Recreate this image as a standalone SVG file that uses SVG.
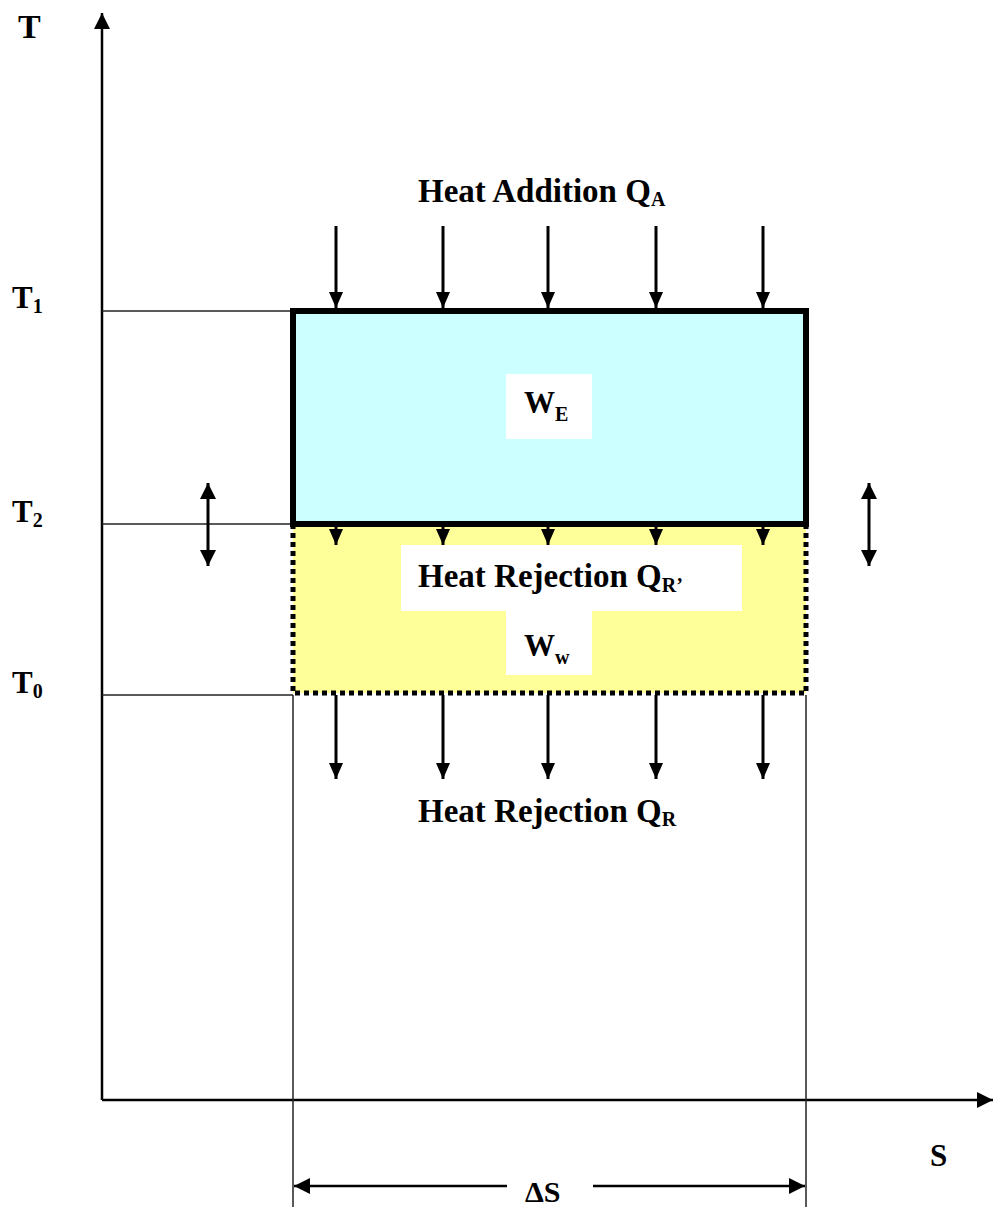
<svg xmlns="http://www.w3.org/2000/svg" width="994" height="1207" viewBox="0 0 994 1207">
<style>
text{font-family:"Liberation Serif","Times New Roman",serif;font-weight:bold;fill:#000}
.lbl{font-size:33px}
.axis{stroke:#000;stroke-width:2.5;fill:none}
.thin{stroke:#222;stroke-width:1.5;fill:none}
.arr{stroke:#000;stroke-width:3;fill:none}
.sub{font-size:20px}
</style>
<defs>
<marker id="ah" markerUnits="userSpaceOnUse" markerWidth="16" markerHeight="16" refX="16" refY="8" orient="auto-start-reverse">
<path d="M0,0 L16,8 L0,16 z" fill="#000"/>
</marker>
<marker id="ahs" markerUnits="userSpaceOnUse" markerWidth="16" markerHeight="14" refX="16" refY="7" orient="auto">
<path d="M0,0 L16,7 L0,14 z" fill="#000"/>
</marker>
</defs>
<rect width="994" height="1207" fill="#fff"/>
<g id="axes">
<line class="axis" x1="102" y1="1100" x2="102" y2="13" marker-end="url(#ah)"/>
<line class="axis" x1="102" y1="1100" x2="993" y2="1100" marker-end="url(#ah)"/>
<text x="18" y="38" font-size="34">T</text>
<text x="930" y="1166" font-size="31">S</text>
</g>
<g id="levels">
<line class="thin" x1="102" y1="311" x2="293" y2="311"/>
<line class="thin" x1="102" y1="524" x2="293" y2="524"/>
<line class="thin" x1="102" y1="695" x2="293" y2="695"/>
<line class="thin" x1="293" y1="695" x2="293" y2="1207"/>
<line class="thin" x1="806" y1="695" x2="806" y2="1207"/>
<text x="12" y="308" font-size="31">T<tspan class="sub" dy="5">1</tspan></text>
<text x="12" y="522" font-size="31">T<tspan class="sub" dy="5">2</tspan></text>
<text x="12" y="693" font-size="31">T<tspan class="sub" dy="5">0</tspan></text>
</g>
<g id="work-wall">
<rect x="293" y="524" width="513" height="169" fill="#FFFF99" stroke="#000" stroke-width="5" stroke-dasharray="5 4"/>
<rect x="401" y="545" width="341" height="66" fill="#fff"/>
<rect x="506" y="611" width="86" height="64" fill="#fff"/>
<text x="418" y="587" class="lbl">Heat Rejection Q<tspan class="sub" dy="5">R’</tspan></text>
<text x="524" y="656" font-size="31">W<tspan class="sub" dy="8">w</tspan></text>
</g>
<g id="work-engine">
<rect x="293" y="311" width="513" height="213" fill="#CCFFFF" stroke="#000" stroke-width="6"/>
<rect x="506" y="374" width="86" height="65" fill="#fff"/>
<text x="524" y="413" font-size="31">W<tspan class="sub" dy="8">E</tspan></text>
</g>
<g id="connectors">
<g class="arr">
<line x1="336" y1="226" x2="336" y2="308" marker-end="url(#ahs)"/>
<line x1="443" y1="226" x2="443" y2="308" marker-end="url(#ahs)"/>
<line x1="548" y1="226" x2="548" y2="308" marker-end="url(#ahs)"/>
<line x1="656" y1="226" x2="656" y2="308" marker-end="url(#ahs)"/>
<line x1="763" y1="226" x2="763" y2="308" marker-end="url(#ahs)"/>
<line x1="336" y1="524" x2="336" y2="545" marker-end="url(#ahs)"/>
<line x1="443" y1="524" x2="443" y2="545" marker-end="url(#ahs)"/>
<line x1="548" y1="524" x2="548" y2="545" marker-end="url(#ahs)"/>
<line x1="656" y1="524" x2="656" y2="545" marker-end="url(#ahs)"/>
<line x1="763" y1="524" x2="763" y2="545" marker-end="url(#ahs)"/>
<line x1="336" y1="695" x2="336" y2="779" marker-end="url(#ahs)"/>
<line x1="443" y1="695" x2="443" y2="779" marker-end="url(#ahs)"/>
<line x1="548" y1="695" x2="548" y2="779" marker-end="url(#ahs)"/>
<line x1="656" y1="695" x2="656" y2="779" marker-end="url(#ahs)"/>
<line x1="763" y1="695" x2="763" y2="779" marker-end="url(#ahs)"/>
<line x1="208" y1="483" x2="208" y2="566" marker-start="url(#ah)" marker-end="url(#ah)"/>
<line x1="869" y1="483" x2="869" y2="566" marker-start="url(#ah)" marker-end="url(#ah)"/>
</g>
<line class="axis" x1="294" y1="1186" x2="507" y2="1186" marker-start="url(#ah)"/>
<line class="axis" x1="593" y1="1186" x2="805" y2="1186" marker-end="url(#ah)"/>
</g>
<g id="labels">
<text x="418" y="202" class="lbl">Heat Addition Q<tspan class="sub" dy="4">A</tspan></text>
<text x="418" y="822" class="lbl">Heat Rejection Q<tspan class="sub" dy="4">R</tspan></text>
<text x="525" y="1202" font-size="30">ΔS</text>
</g>
</svg>
